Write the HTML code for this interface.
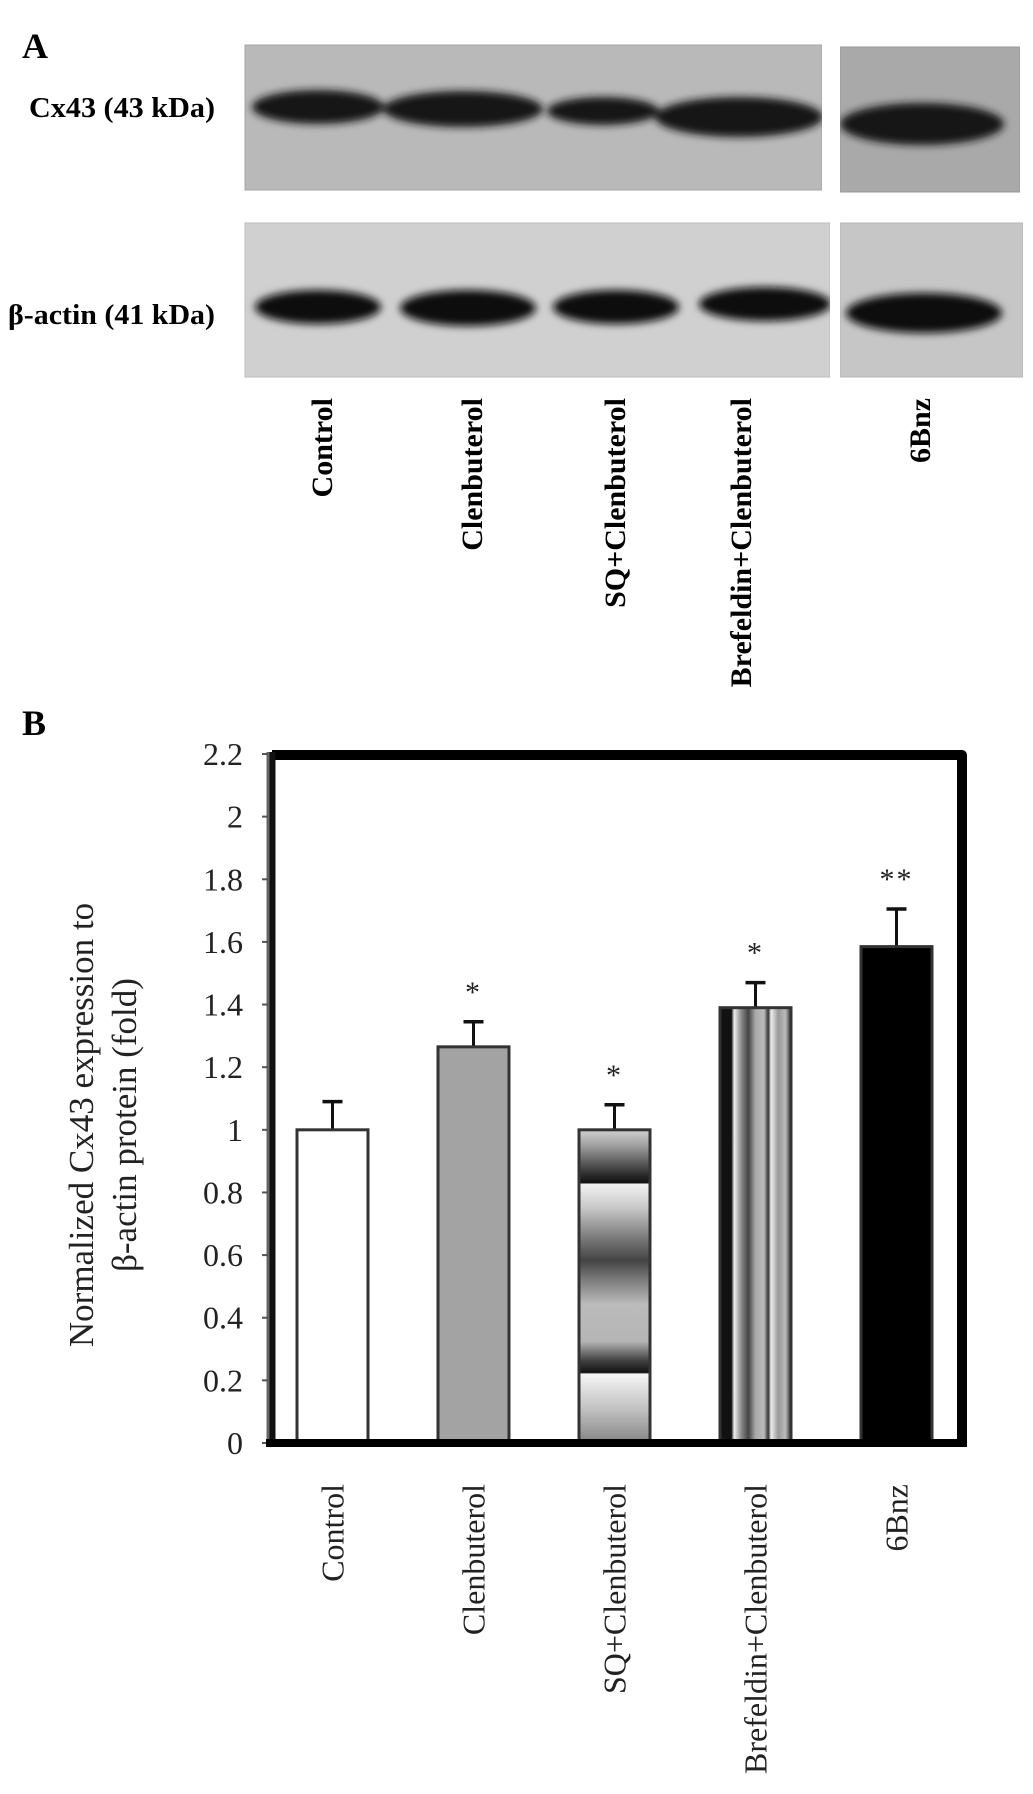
<!DOCTYPE html>
<html><head><meta charset="utf-8">
<style>
html,body{margin:0;padding:0;background:#fff;}
svg{display:block;}
text{font-family:"Liberation Serif",serif;}
</style></head>
<body>
<svg id="fig" width="1033" height="1794" viewBox="0 0 1033 1794" xmlns="http://www.w3.org/2000/svg">
<defs>
  <filter id="blur" x="-20%" y="-60%" width="140%" height="220%"><feGaussianBlur stdDeviation="4"/></filter>
  <linearGradient id="sqGrad" x1="0" y1="0" x2="0" y2="1">
    <stop offset="0" stop-color="#d0d0d0"/>
    <stop offset="0.05" stop-color="#a0a0a0"/>
    <stop offset="0.14" stop-color="#303030"/>
    <stop offset="0.17" stop-color="#111"/>
    <stop offset="0.175" stop-color="#f2f2f2"/>
    <stop offset="0.25" stop-color="#c8c8c8"/>
    <stop offset="0.36" stop-color="#707070"/>
    <stop offset="0.42" stop-color="#444"/>
    <stop offset="0.48" stop-color="#7a7a7a"/>
    <stop offset="0.56" stop-color="#bbb"/>
    <stop offset="0.68" stop-color="#b5b5b5"/>
    <stop offset="0.74" stop-color="#444"/>
    <stop offset="0.78" stop-color="#111"/>
    <stop offset="0.785" stop-color="#f5f5f5"/>
    <stop offset="0.9" stop-color="#c0c0c0"/>
    <stop offset="1" stop-color="#888"/>
  </linearGradient>
  <linearGradient id="brGrad" x1="0" y1="0" x2="1" y2="0">
    <stop offset="0" stop-color="#111"/>
    <stop offset="0.16" stop-color="#111"/>
    <stop offset="0.2" stop-color="#eee"/>
    <stop offset="0.3" stop-color="#888"/>
    <stop offset="0.4" stop-color="#444"/>
    <stop offset="0.5" stop-color="#aaa"/>
    <stop offset="0.62" stop-color="#bbb"/>
    <stop offset="0.68" stop-color="#333"/>
    <stop offset="0.72" stop-color="#eee"/>
    <stop offset="0.82" stop-color="#999"/>
    <stop offset="0.92" stop-color="#bbb"/>
    <stop offset="1" stop-color="#333"/>
  </linearGradient>
</defs>

<!-- Panel A -->
<text x="22" y="58" font-size="36" font-weight="bold">A</text>
<text x="215" y="117" font-size="29" font-weight="bold" text-anchor="end" textLength="186" lengthAdjust="spacingAndGlyphs">Cx43 (43 kDa)</text>
<text x="215" y="324" font-size="29" font-weight="bold" text-anchor="end" textLength="207" lengthAdjust="spacingAndGlyphs">β-actin (41 kDa)</text>

<g>
  <rect x="245" y="45" width="577" height="145" fill="#b9b9b9" stroke="#a5a5a5"/>
  <rect x="840" y="47" width="180" height="145" fill="#a9a9a9" stroke="#999"/>
  <g filter="url(#blur)" fill="#161616">
    <ellipse cx="318" cy="107" rx="66" ry="17"/>
    <ellipse cx="463" cy="109" rx="80" ry="18"/>
    <ellipse cx="603" cy="111" rx="56" ry="14"/>
    <ellipse cx="739" cy="117" rx="84" ry="20"/>
    <ellipse cx="922" cy="124" rx="82" ry="21"/>
  </g>
  <rect x="822" y="40" width="18" height="160" fill="#fff"/>
  <rect x="1020" y="40" width="13" height="160" fill="#fff"/>
</g>
<g>
  <rect x="245" y="223" width="585" height="154" fill="#d0d0d0" stroke="#bbb"/>
  <rect x="840" y="223" width="183" height="154" fill="#c6c6c6" stroke="#b5b5b5"/>
  <g filter="url(#blur)" fill="#111">
    <ellipse cx="318" cy="307" rx="63" ry="17"/>
    <ellipse cx="468" cy="308" rx="68" ry="18"/>
    <ellipse cx="616" cy="307" rx="63" ry="17"/>
    <ellipse cx="765" cy="304" rx="66" ry="17"/>
    <ellipse cx="924" cy="313" rx="78" ry="20"/>
  </g>
  <rect x="830" y="215" width="10" height="170" fill="#fff"/>
  <rect x="1023" y="215" width="10" height="170" fill="#fff"/>
</g>
<g id="blotLabels"></g>

<!-- Panel B -->
<text x="22" y="735" font-size="36" font-weight="bold">B</text>
<text transform="translate(93,1125) rotate(-90)" font-size="35" text-anchor="middle" fill="#222"><tspan x="0" y="0">Normalized Cx43 expression to</tspan><tspan x="0" y="43">β-actin protein (fold)</tspan></text>
<g id="chart"></g>
</svg>

<script>
const categories = ["Control","Clenbuterol","SQ+Clenbuterol","Brefeldin+Clenbuterol","6Bnz"];
const values = [1.0, 1.265, 1.0, 1.39, 1.585];
const errors = [0.09, 0.08, 0.08, 0.08, 0.12];
const stars = ["", "*", "*", "*", "**"];
const yTicks = [0,0.2,0.4,0.6,0.8,1,1.2,1.4,1.6,1.8,2,2.2];
const tickLabels = ["0","0.2","0.4","0.6","0.8","1","1.2","1.4","1.6","1.8","2","2.2"];
const fills = ["#ffffff","#a3a3a3","url(#sqGrad)","url(#brGrad)","#000000"];

const NS = "http://www.w3.org/2000/svg";
function mk(tag, attrs, parent, txt){
  const e = document.createElementNS(NS, tag);
  for (const k in attrs) e.setAttribute(k, attrs[k]);
  if (txt !== undefined) e.textContent = txt;
  parent.appendChild(e);
  return e;
}
const X0 = 262, X1 = 967, Y0 = 1443, Y1 = 754, YMAX = 2.2;
const step = (X1 - X0) / categories.length;
function xC(i){ return X0 + step * (i + 0.5); }
function yS(v){ return Y0 - (v / YMAX) * (Y0 - Y1); }

const bl = document.getElementById('blotLabels');
const blotX = [322, 472, 615, 741, 920];
categories.forEach((c, i) => {
  const t = mk('text', {transform:`translate(${blotX[i]+10},398) rotate(-90)`, 'font-size':30, 'font-weight':'bold', 'text-anchor':'end'}, bl, c);
  
  
});

const g = document.getElementById('chart');
const frame = mk('path', {d:`M${272} ${755} H962 V1443`, fill:'none', stroke:'#000', 'stroke-width':10, 'stroke-linejoin':'round'}, g);


const yAxis = mk('line', {x1:271, y1:752, x2:271, y2:1446, stroke:'#111', 'stroke-width':9}, g);


mk('line', {x1:268, y1:752, x2:268, y2:1446, stroke:'#666', 'stroke-width':3}, g);

yTicks.forEach((v, i) => {
  const y = yS(v);
  const tk = mk('line', {x1:262, y1:y, x2:268, y2:y, stroke:'#555', 'stroke-width':2}, g);
  
  
  const lb = mk('text', {x:243, y:y+11, 'font-size':32, 'text-anchor':'end', fill:'#222'}, g, tickLabels[i]);
  
  
});

const bw = 71;
values.forEach((v, i) => {
  const cx = xC(i), top = yS(v), et = yS(v + errors[i]);
  const el = mk('line', {x1:cx, y1:top, x2:cx, y2:et, stroke:'#111', 'stroke-width':3}, g);
  
  
  const cap = mk('line', {x1:cx-10, y1:et, x2:cx+10, y2:et, stroke:'#111', 'stroke-width':3.5}, g);
  
  
  const b = mk('rect', {x:cx-bw/2, y:top, width:bw, height:Y0-2-top, fill:fills[i], stroke:'#333', 'stroke-width':3}, g);
  
  
  if (stars[i]) {
    const s = mk('text', {x:cx, y:et-20, 'font-size':30, 'text-anchor':'middle', fill:'#222', 'letter-spacing':'2'}, g, stars[i]);
    
    
  }
  const xl = mk('text', {transform:`translate(${cx+11},1484) rotate(-90)`, 'font-size':32, 'text-anchor':'end', fill:'#222'}, g, categories[i]);
  
  
});
const xAxis = mk('line', {x1:266, y1:1443, x2:967, y2:1443, stroke:'#000', 'stroke-width':8}, g);


</script>
</body></html>
